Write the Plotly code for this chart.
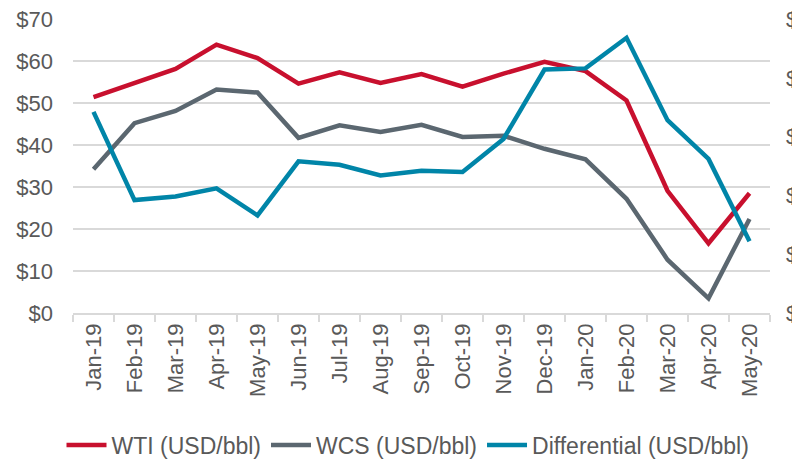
import plotly.graph_objects as go

months = ["Jan-19", "Feb-19", "Mar-19", "Apr-19", "May-19", "Jun-19", "Jul-19", "Aug-19",
          "Sep-19", "Oct-19", "Nov-19", "Dec-19", "Jan-20", "Feb-20", "Mar-20", "Apr-20", "May-20"]
wti = [51.4, 54.8, 58.1, 63.9, 60.7, 54.6, 57.3, 54.8, 56.9, 53.9, 57.0, 59.8, 57.6, 50.6, 29.1, 16.6, 28.5]
wcs = [34.2, 45.2, 48.1, 53.2, 52.5, 41.7, 44.7, 43.1, 44.8, 41.9, 42.2, 39.1, 36.6, 27.2, 12.7, 3.5, 22.4]
diff = [17.1, 9.6, 9.9, 10.6, 8.3, 12.9, 12.6, 11.7, 12.1, 12.0, 14.8, 20.7, 20.8, 23.4, 16.4, 13.1, 6.1]

left_ticks = [0, 10, 20, 30, 40, 50, 60, 70]
left_labels = ["$0", "$10", "$20", "$30", "$40", "$50", "$60", "$70"]
right_ticks = [0, 5, 10, 15, 20, 25]
right_labels = ["$0", "$5", "$10", "$15", "$20", "$25"]

RED = "#C8102E"
GRAY = "#5B6770"
BLUE = "#0085A8"
TXT = "#595959"
GRID = "#D9D9D9"
FONT = "Liberation Sans, Arial, sans-serif"

fig = go.Figure()
fig.add_trace(go.Scatter(x=months, y=wti, name="WTI (USD/bbl)", mode="lines",
                         line=dict(color=RED, width=4.5)))
fig.add_trace(go.Scatter(x=months, y=wcs, name="WCS (USD/bbl)", mode="lines",
                         line=dict(color=GRAY, width=4.5)))
fig.add_trace(go.Scatter(x=months, y=diff, name="Differential (USD/bbl)", mode="lines",
                         line=dict(color=BLUE, width=4.5), yaxis="y2"))

fig.update_layout(
    template="none",
    width=800, height=460,
    margin=dict(l=65, r=38, t=11, b=155),
    paper_bgcolor="white", plot_bgcolor="white",
    font=dict(family=FONT, color=TXT, size=22),
    showlegend=True,
    legend=dict(orientation="h", x=0.5, xref="container", xanchor="center",
                y=(460 - 437) / 460, yref="container", yanchor="middle",
                tracegroupgap=0, itemwidth=40,
                font=dict(family=FONT, size=23, color=TXT),
                bgcolor="rgba(0,0,0,0)"),
    xaxis=dict(type="category", range=[-0.5, 16.5], tickangle=-90, showgrid=False,
               showline=True, linecolor=GRID, linewidth=1.5, ticks="outside",
               tickson="boundaries", ticklen=7, tickcolor=GRID, tickwidth=1.5,
               automargin=False, tickfont=dict(size=22, color=TXT), zeroline=False),
    yaxis=dict(range=[0, 70], tickvals=left_ticks, ticktext=left_labels, showgrid=True,
               gridcolor=GRID, gridwidth=1.5, zeroline=False, showline=False,
               ticks="", automargin=False, ticklabelstandoff=19,
               ticklabeloverflow="allow",
               tickfont=dict(size=22, color=TXT)),
    yaxis2=dict(range=[0, 25], tickvals=right_ticks, ticktext=right_labels,
                overlaying="y", side="right", showgrid=False, zeroline=False,
                showline=False, ticks="", automargin=False, ticklabelstandoff=15,
                ticklabeloverflow="allow",
                tickfont=dict(size=22, color=TXT)),
)

fig.write_html("out.html")
